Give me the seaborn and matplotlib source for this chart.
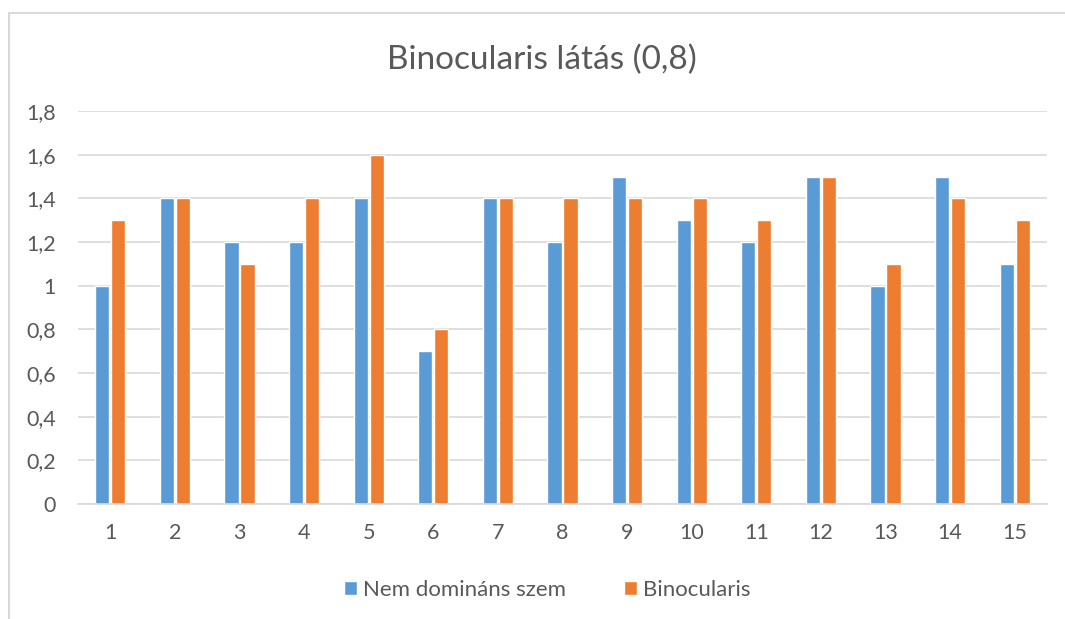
import numpy as np
import pandas as pd
import seaborn as sns
import matplotlib.pyplot as plt
from matplotlib.lines import Line2D
from matplotlib.ticker import FuncFormatter

# data
subjects = [str(i) for i in range(1, 16)]
nem_dominans = [1.0, 1.4, 1.2, 1.2, 1.4, 0.7, 1.4, 1.2, 1.5, 1.3, 1.2, 1.5, 1.0, 1.5, 1.1]
binocularis = [1.3, 1.4, 1.1, 1.4, 1.6, 0.8, 1.4, 1.4, 1.4, 1.4, 1.3, 1.5, 1.1, 1.4, 1.3]
series_names = ['Nem domináns szem', 'Binocularis']
colors = ['#5B9BD5', '#ED7D31']

df = pd.DataFrame({
    'alany': subjects * 2,
    'ertek': nem_dominans + binocularis,
    'sorozat': [series_names[0]] * 15 + [series_names[1]] * 15,
})

sns.set_style('white')
plt.rcParams['font.family'] = ['Lato', 'DejaVu Sans']
text_col = '#595959'

fig = plt.figure(figsize=(10.65, 6.19), dpi=100)
ax = fig.add_axes([78 / 1065, 1 - 504 / 619, (1047 - 78) / 1065, (504 - 111) / 619])

sns.barplot(data=df, x='alany', y='ertek', hue='sorozat', palette=colors,
            width=0.5, gap=0.12, saturation=1, ax=ax, legend=True)

ax.set_ylim(0, 1.8)
ax.set_yticks(np.arange(0, 1.81, 0.2))
ax.yaxis.set_major_formatter(FuncFormatter(lambda v, p: ('%g' % round(v, 1)).replace('.', ',')))
ax.grid(axis='y', color='#d9d9d9', linewidth=1.2)
ax.set_axisbelow(True)
for s in ['top', 'right', 'left']:
    ax.spines[s].set_visible(False)
ax.spines['bottom'].set_color('#d9d9d9')
ax.spines['bottom'].set_linewidth(1.2)
ax.tick_params(axis='both', length=0, labelsize=15.5, colors=text_col)
ax.tick_params(axis='y', pad=16)
ax.tick_params(axis='x', pad=14)
ax.set_xlabel('')
ax.set_ylabel('')

fig.text(542 / 1065, 1 - 60 / 619, 'Binocularis látás (0,8)', ha='center', va='center',
         fontsize=24, color=text_col)

handles, labels = ax.get_legend_handles_labels()
ax.legend_.remove()
fig.legend(handles, labels, loc='center', bbox_to_anchor=(547 / 1065, 1 - 590 / 619),
           ncol=2, frameon=False, fontsize=16, labelcolor=text_col,
           handlelength=0.6, handleheight=0.6, handletextpad=0.25, columnspacing=2.6)

# chart frame: only left and top edges show in the reference
fx, fy = 9 / 1065, 1 - 13 / 619
fig.add_artist(Line2D([fx, fx], [0, fy], transform=fig.transFigure, color='#d9d9d9', linewidth=1.5))
fig.add_artist(Line2D([fx, 1], [fy, fy], transform=fig.transFigure, color='#d9d9d9', linewidth=1.5))

fig.savefig('out.png', dpi=100)
